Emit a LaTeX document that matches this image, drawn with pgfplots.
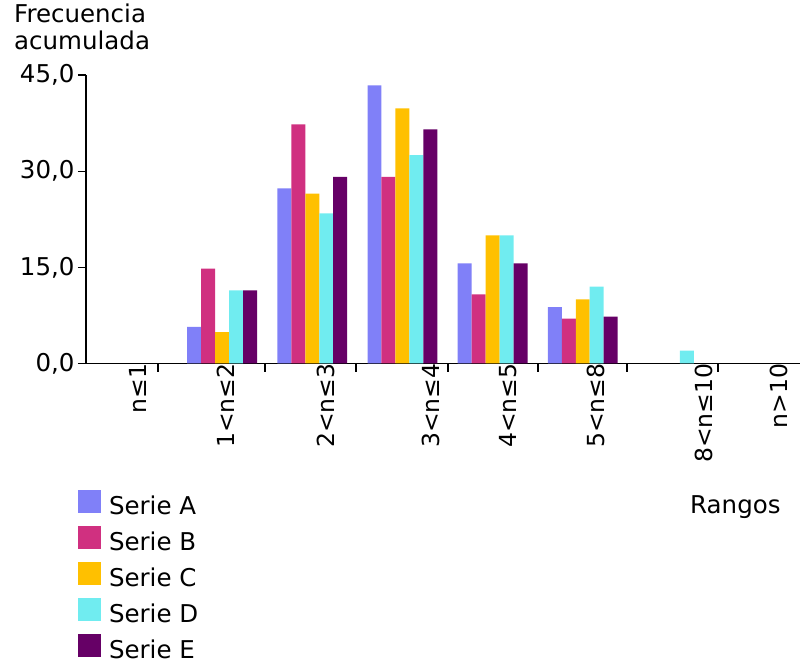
\documentclass[border=0pt]{standalone}
\usepackage{pgfplots}
\pgfplotsset{compat=1.18}
\usepackage{fontspec}
\setmainfont{DejaVu Sans}
\definecolor{serA}{RGB}{128,128,248}
\definecolor{serB}{RGB}{208,48,128}
\definecolor{serC}{RGB}{255,192,0}
\definecolor{serD}{RGB}{112,236,240}
\definecolor{serE}{RGB}{102,0,102}
\pgfplotsset{sq legend/.style={legend image code/.code={\fill[##1] (0bp,-7bp) rectangle (23bp,16bp);}}}
\newcommand{\bigf}{\fontsize{24.5bp}{28bp}\selectfont}
\newcommand{\labf}{\fontsize{23.5bp}{27bp}\selectfont}
\begin{document}
\begin{tikzpicture}
\useasboundingbox (0,0) rectangle (802bp,665bp);
\begin{axis}[
  at={(86bp,301.5bp)}, anchor=south west,
  scale only axis, width=714bp, height=288.5bp,
  xmin=-0.51, xmax=7.41, ymin=0, ymax=45,
  axis x line=bottom, axis y line=left,
  axis line style={-, line width=1.5bp, black},
  ytick={0,15,30,45},
  yticklabel style={font=\bigf, /pgf/number format/fixed, /pgf/number format/fixed zerofill, /pgf/number format/precision=1, /pgf/number format/use comma, /pgf/number format/assume math mode=true},
  tick align=outside,
  major tick length=8bp,
  tick style={line width=1.3bp, black},
  xtick={0.288,1.475,2.485,3.505,4.504,5.491,6.5},
  xticklabels={},
  extra x ticks={-0.114,0.865,1.975,3.14,3.99,4.97,6.17,7.0},
  extra x tick labels={n≤1,1<n≤2,2<n≤3,3<n≤4,4<n≤5,5<n≤8,8<n≤10,n>10},
  extra x tick style={major tick length=0pt, tick label style={rotate=90, anchor=east, font=\labf, inner sep=0pt, yshift=-16bp}},
  ybar, bar width=0.155,
  legend style={at={(-0.0112,-0.4385)}, anchor=north west, draw=none, fill=none, inner sep=0pt, outer sep=0pt, row sep=10bp, column sep=8bp, font=\bigf, cells={anchor=west}, nodes={inner sep=0pt}},
  legend cell align=left,
]
\addplot[fill=serA, draw=none, bar shift=-0.31, sq legend] coordinates {(1,5.7) (2,27.3) (3,43.4) (4,15.6) (5,8.8)};
\addplot[fill=serB, draw=none, bar shift=-0.155, sq legend] coordinates {(1,14.8) (2,37.3) (3,29.1) (4,10.8) (5,7.0)};
\addplot[fill=serC, draw=none, bar shift=0, sq legend] coordinates {(1,4.9) (2,26.5) (3,39.8) (4,20.0) (5,10.0)};
\addplot[fill=serD, draw=none, bar shift=0.155, sq legend] coordinates {(1,11.4) (2,23.4) (3,32.5) (4,20.0) (5,12.0) (6,2.0)};
\addplot[fill=serE, draw=none, bar shift=0.31, sq legend] coordinates {(1,11.4) (2,29.1) (3,36.5) (4,15.6) (5,7.3)};
\legend{Serie A,Serie B,Serie C,Serie D,Serie E}
\end{axis}
\node[anchor=base west, inner sep=0pt, font=\bigf] at (14bp,642.3bp) {Frecuencia};
\node[anchor=base west, inner sep=0pt, font=\bigf] at (14bp,615bp) {acumulada};
\node[anchor=base west, inner sep=0pt, font=\bigf] at (690bp,151.7bp) {Rangos};
\end{tikzpicture}
\end{document}
